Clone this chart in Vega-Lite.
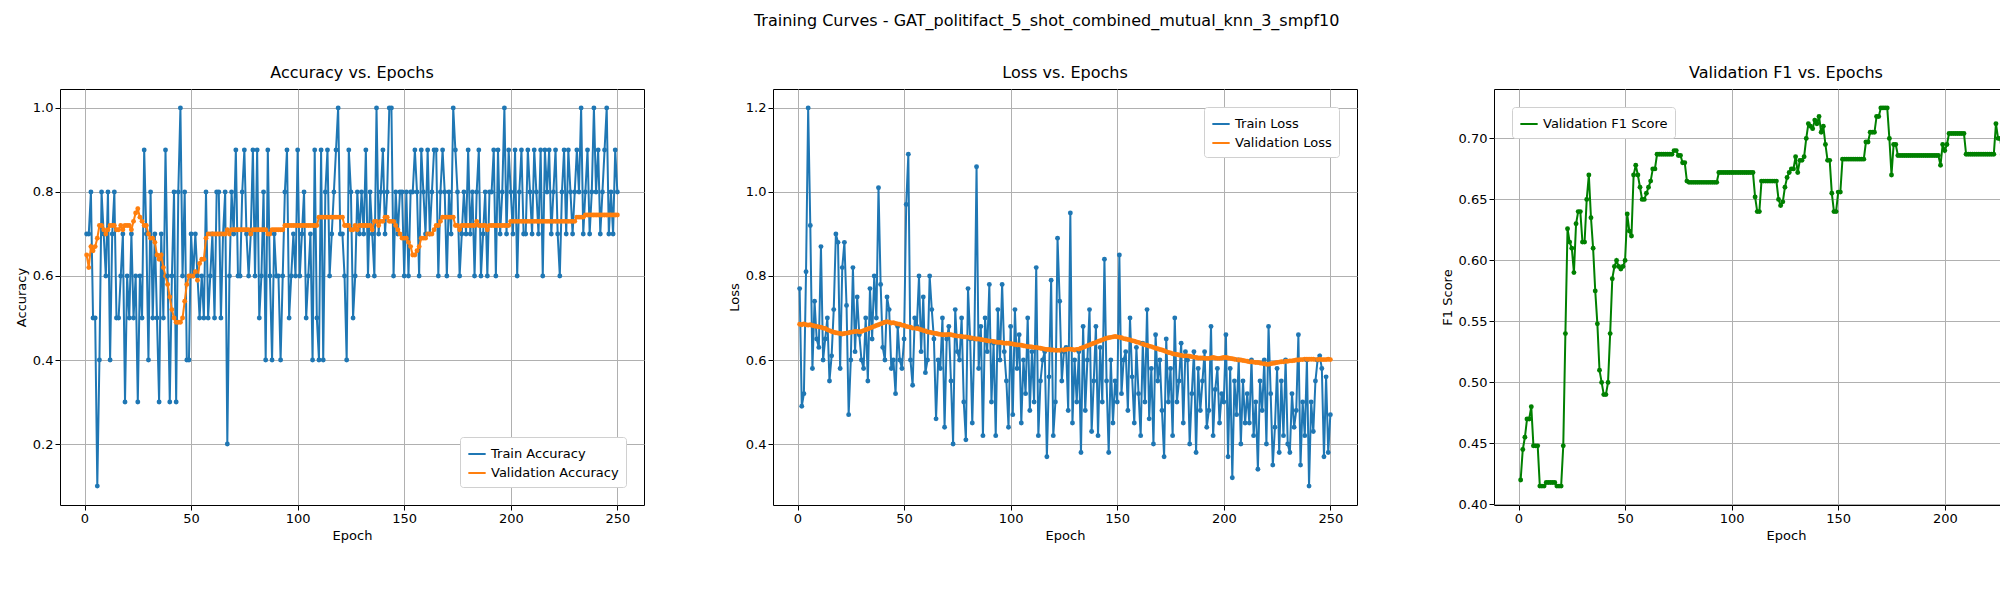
{
  "$schema": "https://vega.github.io/schema/vega-lite/v6.json",
  "title": {"text": "Training Curves - GAT_politifact_5_shot_combined_mutual_knn_3_smpf10", "anchor": "middle", "fontSize": 16, "fontWeight": "normal", "offset": 36},
  "padding": {"left": 14, "top": 12, "right": 5, "bottom": 5},
  "config": {
    "font": "DejaVu Sans",
    "view": {"stroke": "black", "strokeWidth": 1},
    "axis": {"grid": true, "gridColor": "#b0b0b0", "gridWidth": 1, "domain": false, "tickColor": "black", "tickSize": 5, "labelFontSize": 13, "titleFontSize": 13, "titleFontWeight": "normal", "labelColor": "black", "titleColor": "black"},
    "title": {"fontSize": 16, "fontWeight": "normal", "offset": 8},
    "legend": {"labelFontSize": 13, "strokeColor": "#d0d0d0", "fillColor": "white", "padding": 7, "cornerRadius": 3, "title": null, "symbolType": "stroke", "symbolStrokeWidth": 2, "symbolSize": 300}
  },
  "spacing": 82,
  "data": {"values": [
{"e":1,"ta":0.7,"va":0.65,"tl":0.77,"vl":0.685,"f":0.42},
{"e":2,"ta":0.7,"va":0.62,"tl":0.49,"vl":0.684,"f":0.445},
{"e":3,"ta":0.8,"va":0.67,"tl":0.52,"vl":0.686,"f":0.455},
{"e":4,"ta":0.5,"va":0.66,"tl":0.81,"vl":0.684,"f":0.47},
{"e":5,"ta":0.5,"va":0.67,"tl":1.2,"vl":0.683,"f":0.47},
{"e":6,"ta":0.1,"va":0.69,"tl":0.92,"vl":0.684,"f":0.48},
{"e":7,"ta":0.4,"va":0.72,"tl":0.58,"vl":0.682,"f":0.448},
{"e":8,"ta":0.8,"va":0.72,"tl":0.74,"vl":0.681,"f":0.448},
{"e":9,"ta":0.7,"va":0.71,"tl":0.65,"vl":0.68,"f":0.448},
{"e":10,"ta":0.6,"va":0.7,"tl":0.63,"vl":0.679,"f":0.415},
{"e":11,"ta":0.8,"va":0.71,"tl":0.87,"vl":0.678,"f":0.415},
{"e":12,"ta":0.4,"va":0.72,"tl":0.6,"vl":0.676,"f":0.415},
{"e":13,"ta":0.7,"va":0.72,"tl":0.65,"vl":0.675,"f":0.418},
{"e":14,"ta":0.8,"va":0.72,"tl":0.7,"vl":0.672,"f":0.418},
{"e":15,"ta":0.5,"va":0.71,"tl":0.55,"vl":0.67,"f":0.418},
{"e":16,"ta":0.5,"va":0.71,"tl":0.61,"vl":0.668,"f":0.418},
{"e":17,"ta":0.6,"va":0.72,"tl":0.72,"vl":0.666,"f":0.418},
{"e":18,"ta":0.7,"va":0.71,"tl":0.9,"vl":0.665,"f":0.415},
{"e":19,"ta":0.3,"va":0.72,"tl":0.88,"vl":0.664,"f":0.415},
{"e":20,"ta":0.6,"va":0.72,"tl":0.58,"vl":0.663,"f":0.415},
{"e":21,"ta":0.5,"va":0.72,"tl":0.82,"vl":0.662,"f":0.448},
{"e":22,"ta":0.7,"va":0.71,"tl":0.88,"vl":0.663,"f":0.54},
{"e":23,"ta":0.5,"va":0.73,"tl":0.73,"vl":0.664,"f":0.626},
{"e":24,"ta":0.6,"va":0.75,"tl":0.47,"vl":0.665,"f":0.615},
{"e":25,"ta":0.3,"va":0.76,"tl":0.6,"vl":0.666,"f":0.61},
{"e":26,"ta":0.6,"va":0.74,"tl":0.82,"vl":0.667,"f":0.59},
{"e":27,"ta":0.5,"va":0.73,"tl":0.62,"vl":0.668,"f":0.63},
{"e":28,"ta":0.9,"va":0.72,"tl":0.75,"vl":0.668,"f":0.64},
{"e":29,"ta":0.7,"va":0.72,"tl":0.66,"vl":0.667,"f":0.64},
{"e":30,"ta":0.4,"va":0.7,"tl":0.6,"vl":0.668,"f":0.615},
{"e":31,"ta":0.8,"va":0.69,"tl":0.58,"vl":0.67,"f":0.615},
{"e":32,"ta":0.5,"va":0.69,"tl":0.7,"vl":0.672,"f":0.65},
{"e":33,"ta":0.7,"va":0.68,"tl":0.55,"vl":0.674,"f":0.67},
{"e":34,"ta":0.5,"va":0.65,"tl":0.77,"vl":0.676,"f":0.635},
{"e":35,"ta":0.3,"va":0.64,"tl":0.65,"vl":0.678,"f":0.61},
{"e":36,"ta":0.7,"va":0.65,"tl":0.8,"vl":0.68,"f":0.575},
{"e":37,"ta":0.5,"va":0.62,"tl":0.7,"vl":0.682,"f":0.548},
{"e":38,"ta":0.9,"va":0.6,"tl":1.01,"vl":0.684,"f":0.51},
{"e":39,"ta":0.6,"va":0.58,"tl":0.78,"vl":0.686,"f":0.5},
{"e":40,"ta":0.3,"va":0.55,"tl":0.63,"vl":0.688,"f":0.49},
{"e":41,"ta":0.6,"va":0.52,"tl":0.6,"vl":0.69,"f":0.49},
{"e":42,"ta":0.8,"va":0.5,"tl":0.75,"vl":0.691,"f":0.5},
{"e":43,"ta":0.3,"va":0.49,"tl":0.72,"vl":0.69,"f":0.54},
{"e":44,"ta":0.8,"va":0.49,"tl":0.58,"vl":0.688,"f":0.585},
{"e":45,"ta":1.0,"va":0.49,"tl":0.6,"vl":0.689,"f":0.595},
{"e":46,"ta":0.6,"va":0.5,"tl":0.52,"vl":0.687,"f":0.6},
{"e":47,"ta":0.8,"va":0.54,"tl":0.68,"vl":0.686,"f":0.595},
{"e":48,"ta":0.4,"va":0.58,"tl":0.6,"vl":0.685,"f":0.593},
{"e":49,"ta":0.4,"va":0.6,"tl":0.58,"vl":0.683,"f":0.595},
{"e":50,"ta":0.7,"va":0.6,"tl":0.65,"vl":0.682,"f":0.6},
{"e":51,"ta":0.6,"va":0.6,"tl":0.97,"vl":0.68,"f":0.638},
{"e":52,"ta":0.7,"va":0.61,"tl":1.09,"vl":0.679,"f":0.624},
{"e":53,"ta":0.6,"va":0.59,"tl":0.6,"vl":0.678,"f":0.62},
{"e":54,"ta":0.5,"va":0.63,"tl":0.54,"vl":0.676,"f":0.67},
{"e":55,"ta":0.6,"va":0.64,"tl":0.7,"vl":0.676,"f":0.678},
{"e":56,"ta":0.5,"va":0.64,"tl":0.68,"vl":0.675,"f":0.67},
{"e":57,"ta":0.8,"va":0.69,"tl":0.8,"vl":0.674,"f":0.66},
{"e":58,"ta":0.5,"va":0.7,"tl":0.62,"vl":0.672,"f":0.65},
{"e":59,"ta":0.6,"va":0.7,"tl":0.75,"vl":0.67,"f":0.65},
{"e":60,"ta":0.7,"va":0.7,"tl":0.57,"vl":0.669,"f":0.655},
{"e":61,"ta":0.5,"va":0.7,"tl":0.6,"vl":0.667,"f":0.66},
{"e":62,"ta":0.8,"va":0.7,"tl":0.8,"vl":0.666,"f":0.665},
{"e":63,"ta":0.8,"va":0.7,"tl":0.72,"vl":0.665,"f":0.675},
{"e":64,"ta":0.5,"va":0.7,"tl":0.65,"vl":0.664,"f":0.675},
{"e":65,"ta":0.7,"va":0.7,"tl":0.46,"vl":0.663,"f":0.687},
{"e":66,"ta":0.8,"va":0.7,"tl":0.6,"vl":0.662,"f":0.687},
{"e":67,"ta":0.2,"va":0.71,"tl":0.58,"vl":0.661,"f":0.687},
{"e":68,"ta":0.6,"va":0.7,"tl":0.7,"vl":0.66,"f":0.687},
{"e":69,"ta":0.8,"va":0.71,"tl":0.44,"vl":0.66,"f":0.687},
{"e":70,"ta":0.7,"va":0.71,"tl":0.65,"vl":0.66,"f":0.687},
{"e":71,"ta":0.9,"va":0.71,"tl":0.68,"vl":0.661,"f":0.687},
{"e":72,"ta":0.6,"va":0.71,"tl":0.55,"vl":0.66,"f":0.687},
{"e":73,"ta":0.6,"va":0.71,"tl":0.4,"vl":0.659,"f":0.69},
{"e":74,"ta":0.8,"va":0.71,"tl":0.72,"vl":0.658,"f":0.69},
{"e":75,"ta":0.9,"va":0.71,"tl":0.62,"vl":0.657,"f":0.686},
{"e":76,"ta":0.7,"va":0.71,"tl":0.6,"vl":0.657,"f":0.686},
{"e":77,"ta":0.6,"va":0.71,"tl":0.7,"vl":0.656,"f":0.68},
{"e":78,"ta":0.7,"va":0.7,"tl":0.5,"vl":0.655,"f":0.68},
{"e":79,"ta":0.9,"va":0.71,"tl":0.41,"vl":0.655,"f":0.665},
{"e":80,"ta":0.6,"va":0.71,"tl":0.77,"vl":0.654,"f":0.664},
{"e":81,"ta":0.9,"va":0.71,"tl":0.65,"vl":0.653,"f":0.664},
{"e":82,"ta":0.5,"va":0.71,"tl":0.45,"vl":0.652,"f":0.664},
{"e":83,"ta":0.6,"va":0.71,"tl":0.65,"vl":0.651,"f":0.664},
{"e":84,"ta":0.8,"va":0.71,"tl":1.06,"vl":0.65,"f":0.664},
{"e":85,"ta":0.4,"va":0.71,"tl":0.58,"vl":0.65,"f":0.664},
{"e":86,"ta":0.9,"va":0.7,"tl":0.68,"vl":0.649,"f":0.664},
{"e":87,"ta":0.6,"va":0.7,"tl":0.42,"vl":0.648,"f":0.664},
{"e":88,"ta":0.4,"va":0.71,"tl":0.7,"vl":0.647,"f":0.664},
{"e":89,"ta":0.7,"va":0.71,"tl":0.62,"vl":0.646,"f":0.664},
{"e":90,"ta":0.6,"va":0.71,"tl":0.78,"vl":0.645,"f":0.664},
{"e":91,"ta":0.6,"va":0.71,"tl":0.5,"vl":0.645,"f":0.664},
{"e":92,"ta":0.4,"va":0.71,"tl":0.64,"vl":0.644,"f":0.664},
{"e":93,"ta":0.6,"va":0.71,"tl":0.42,"vl":0.643,"f":0.664},
{"e":94,"ta":0.8,"va":0.72,"tl":0.72,"vl":0.642,"f":0.672},
{"e":95,"ta":0.9,"va":0.72,"tl":0.6,"vl":0.642,"f":0.672},
{"e":96,"ta":0.5,"va":0.72,"tl":0.78,"vl":0.641,"f":0.672},
{"e":97,"ta":0.6,"va":0.72,"tl":0.62,"vl":0.64,"f":0.672},
{"e":98,"ta":0.7,"va":0.72,"tl":0.55,"vl":0.64,"f":0.672},
{"e":99,"ta":0.6,"va":0.72,"tl":0.44,"vl":0.64,"f":0.672},
{"e":100,"ta":0.9,"va":0.72,"tl":0.68,"vl":0.639,"f":0.672},
{"e":101,"ta":0.6,"va":0.72,"tl":0.47,"vl":0.638,"f":0.672},
{"e":102,"ta":0.7,"va":0.72,"tl":0.72,"vl":0.637,"f":0.672},
{"e":103,"ta":0.8,"va":0.72,"tl":0.58,"vl":0.636,"f":0.672},
{"e":104,"ta":0.5,"va":0.72,"tl":0.66,"vl":0.636,"f":0.672},
{"e":105,"ta":0.6,"va":0.72,"tl":0.45,"vl":0.635,"f":0.672},
{"e":106,"ta":0.7,"va":0.72,"tl":0.6,"vl":0.634,"f":0.672},
{"e":107,"ta":0.4,"va":0.72,"tl":0.52,"vl":0.633,"f":0.672},
{"e":108,"ta":0.9,"va":0.72,"tl":0.7,"vl":0.632,"f":0.672},
{"e":109,"ta":0.5,"va":0.72,"tl":0.48,"vl":0.632,"f":0.672},
{"e":110,"ta":0.4,"va":0.74,"tl":0.62,"vl":0.631,"f":0.672},
{"e":111,"ta":0.9,"va":0.74,"tl":0.5,"vl":0.63,"f":0.652},
{"e":112,"ta":0.4,"va":0.74,"tl":0.82,"vl":0.63,"f":0.64},
{"e":113,"ta":0.8,"va":0.74,"tl":0.42,"vl":0.629,"f":0.64},
{"e":114,"ta":0.9,"va":0.74,"tl":0.55,"vl":0.628,"f":0.665},
{"e":115,"ta":0.6,"va":0.74,"tl":0.6,"vl":0.627,"f":0.665},
{"e":116,"ta":0.7,"va":0.74,"tl":0.62,"vl":0.626,"f":0.665},
{"e":117,"ta":0.8,"va":0.74,"tl":0.37,"vl":0.625,"f":0.665},
{"e":118,"ta":0.9,"va":0.74,"tl":0.56,"vl":0.625,"f":0.665},
{"e":119,"ta":1.0,"va":0.74,"tl":0.79,"vl":0.624,"f":0.665},
{"e":120,"ta":0.7,"va":0.74,"tl":0.42,"vl":0.624,"f":0.665},
{"e":121,"ta":0.7,"va":0.74,"tl":0.5,"vl":0.623,"f":0.665},
{"e":122,"ta":0.6,"va":0.72,"tl":0.89,"vl":0.623,"f":0.65},
{"e":123,"ta":0.4,"va":0.72,"tl":0.74,"vl":0.623,"f":0.645},
{"e":124,"ta":0.9,"va":0.72,"tl":0.55,"vl":0.624,"f":0.648},
{"e":125,"ta":0.8,"va":0.71,"tl":0.62,"vl":0.624,"f":0.66},
{"e":126,"ta":0.5,"va":0.71,"tl":0.63,"vl":0.625,"f":0.668},
{"e":127,"ta":0.6,"va":0.72,"tl":0.48,"vl":0.626,"f":0.672},
{"e":128,"ta":0.8,"va":0.71,"tl":0.95,"vl":0.626,"f":0.675},
{"e":129,"ta":0.7,"va":0.72,"tl":0.45,"vl":0.625,"f":0.675},
{"e":130,"ta":0.8,"va":0.72,"tl":0.6,"vl":0.624,"f":0.685},
{"e":131,"ta":0.7,"va":0.72,"tl":0.5,"vl":0.625,"f":0.672},
{"e":132,"ta":0.9,"va":0.72,"tl":0.62,"vl":0.626,"f":0.682},
{"e":133,"ta":0.6,"va":0.72,"tl":0.38,"vl":0.628,"f":0.682},
{"e":134,"ta":0.8,"va":0.72,"tl":0.68,"vl":0.63,"f":0.685},
{"e":135,"ta":0.7,"va":0.71,"tl":0.48,"vl":0.632,"f":0.7},
{"e":136,"ta":0.6,"va":0.73,"tl":0.6,"vl":0.634,"f":0.712},
{"e":137,"ta":1.0,"va":0.73,"tl":0.72,"vl":0.636,"f":0.71},
{"e":138,"ta":0.7,"va":0.72,"tl":0.43,"vl":0.638,"f":0.708},
{"e":139,"ta":0.8,"va":0.73,"tl":0.55,"vl":0.64,"f":0.715},
{"e":140,"ta":0.9,"va":0.73,"tl":0.68,"vl":0.642,"f":0.712},
{"e":141,"ta":0.7,"va":0.74,"tl":0.42,"vl":0.644,"f":0.718},
{"e":142,"ta":0.8,"va":0.74,"tl":0.63,"vl":0.646,"f":0.705},
{"e":143,"ta":1.0,"va":0.73,"tl":0.5,"vl":0.648,"f":0.71},
{"e":144,"ta":1.0,"va":0.73,"tl":0.84,"vl":0.65,"f":0.695},
{"e":145,"ta":0.6,"va":0.73,"tl":0.55,"vl":0.652,"f":0.682},
{"e":146,"ta":0.8,"va":0.72,"tl":0.38,"vl":0.653,"f":0.682},
{"e":147,"ta":0.7,"va":0.71,"tl":0.6,"vl":0.654,"f":0.655},
{"e":148,"ta":0.8,"va":0.7,"tl":0.45,"vl":0.655,"f":0.64},
{"e":149,"ta":0.8,"va":0.69,"tl":0.55,"vl":0.656,"f":0.64},
{"e":150,"ta":0.6,"va":0.69,"tl":0.5,"vl":0.655,"f":0.656},
{"e":151,"ta":0.8,"va":0.69,"tl":0.85,"vl":0.654,"f":0.656},
{"e":152,"ta":0.6,"va":0.68,"tl":0.52,"vl":0.653,"f":0.683},
{"e":153,"ta":0.8,"va":0.67,"tl":0.6,"vl":0.651,"f":0.683},
{"e":154,"ta":0.8,"va":0.65,"tl":0.62,"vl":0.65,"f":0.683},
{"e":155,"ta":0.9,"va":0.65,"tl":0.48,"vl":0.649,"f":0.683},
{"e":156,"ta":0.8,"va":0.66,"tl":0.7,"vl":0.648,"f":0.683},
{"e":157,"ta":0.6,"va":0.67,"tl":0.56,"vl":0.646,"f":0.683},
{"e":158,"ta":0.9,"va":0.69,"tl":0.45,"vl":0.645,"f":0.683},
{"e":159,"ta":0.8,"va":0.69,"tl":0.63,"vl":0.643,"f":0.683},
{"e":160,"ta":0.7,"va":0.69,"tl":0.52,"vl":0.642,"f":0.683},
{"e":161,"ta":0.9,"va":0.7,"tl":0.42,"vl":0.64,"f":0.683},
{"e":162,"ta":0.7,"va":0.7,"tl":0.64,"vl":0.638,"f":0.683},
{"e":163,"ta":0.8,"va":0.7,"tl":0.5,"vl":0.636,"f":0.697},
{"e":164,"ta":0.9,"va":0.71,"tl":0.72,"vl":0.635,"f":0.697},
{"e":165,"ta":0.9,"va":0.72,"tl":0.46,"vl":0.633,"f":0.705},
{"e":166,"ta":0.6,"va":0.72,"tl":0.58,"vl":0.632,"f":0.705},
{"e":167,"ta":0.8,"va":0.73,"tl":0.4,"vl":0.63,"f":0.705},
{"e":168,"ta":0.9,"va":0.74,"tl":0.66,"vl":0.628,"f":0.718},
{"e":169,"ta":0.8,"va":0.74,"tl":0.55,"vl":0.627,"f":0.718},
{"e":170,"ta":0.6,"va":0.74,"tl":0.6,"vl":0.625,"f":0.725},
{"e":171,"ta":0.8,"va":0.74,"tl":0.48,"vl":0.624,"f":0.725},
{"e":172,"ta":0.7,"va":0.74,"tl":0.37,"vl":0.622,"f":0.725},
{"e":173,"ta":1.0,"va":0.74,"tl":0.65,"vl":0.62,"f":0.725},
{"e":174,"ta":0.9,"va":0.72,"tl":0.5,"vl":0.618,"f":0.7},
{"e":175,"ta":0.8,"va":0.72,"tl":0.58,"vl":0.617,"f":0.67},
{"e":176,"ta":0.6,"va":0.71,"tl":0.42,"vl":0.615,"f":0.695},
{"e":177,"ta":0.7,"va":0.72,"tl":0.7,"vl":0.614,"f":0.695},
{"e":178,"ta":0.8,"va":0.72,"tl":0.5,"vl":0.613,"f":0.686},
{"e":179,"ta":0.7,"va":0.72,"tl":0.55,"vl":0.612,"f":0.686},
{"e":180,"ta":0.9,"va":0.72,"tl":0.64,"vl":0.611,"f":0.686},
{"e":181,"ta":0.7,"va":0.72,"tl":0.45,"vl":0.61,"f":0.686},
{"e":182,"ta":0.8,"va":0.72,"tl":0.62,"vl":0.61,"f":0.686},
{"e":183,"ta":0.6,"va":0.72,"tl":0.6,"vl":0.61,"f":0.686},
{"e":184,"ta":0.8,"va":0.73,"tl":0.4,"vl":0.609,"f":0.686},
{"e":185,"ta":0.9,"va":0.72,"tl":0.52,"vl":0.608,"f":0.686},
{"e":186,"ta":0.6,"va":0.72,"tl":0.62,"vl":0.607,"f":0.686},
{"e":187,"ta":0.7,"va":0.72,"tl":0.38,"vl":0.606,"f":0.686},
{"e":188,"ta":0.8,"va":0.72,"tl":0.58,"vl":0.605,"f":0.686},
{"e":189,"ta":0.6,"va":0.71,"tl":0.48,"vl":0.605,"f":0.686},
{"e":190,"ta":0.8,"va":0.72,"tl":0.55,"vl":0.605,"f":0.686},
{"e":191,"ta":0.8,"va":0.72,"tl":0.62,"vl":0.604,"f":0.686},
{"e":192,"ta":0.9,"va":0.72,"tl":0.44,"vl":0.604,"f":0.686},
{"e":193,"ta":0.6,"va":0.72,"tl":0.48,"vl":0.604,"f":0.686},
{"e":194,"ta":0.9,"va":0.72,"tl":0.68,"vl":0.605,"f":0.686},
{"e":195,"ta":0.7,"va":0.72,"tl":0.42,"vl":0.606,"f":0.686},
{"e":196,"ta":0.8,"va":0.72,"tl":0.53,"vl":0.605,"f":0.686},
{"e":197,"ta":1.0,"va":0.72,"tl":0.58,"vl":0.604,"f":0.686},
{"e":198,"ta":0.7,"va":0.72,"tl":0.45,"vl":0.604,"f":0.678},
{"e":199,"ta":0.9,"va":0.72,"tl":0.52,"vl":0.605,"f":0.695},
{"e":200,"ta":0.8,"va":0.73,"tl":0.5,"vl":0.606,"f":0.69},
{"e":201,"ta":0.7,"va":0.73,"tl":0.66,"vl":0.606,"f":0.695},
{"e":202,"ta":0.9,"va":0.73,"tl":0.37,"vl":0.605,"f":0.704},
{"e":203,"ta":0.6,"va":0.73,"tl":0.58,"vl":0.604,"f":0.704},
{"e":204,"ta":0.8,"va":0.73,"tl":0.32,"vl":0.603,"f":0.704},
{"e":205,"ta":0.9,"va":0.73,"tl":0.55,"vl":0.602,"f":0.704},
{"e":206,"ta":0.7,"va":0.73,"tl":0.47,"vl":0.601,"f":0.704},
{"e":207,"ta":0.7,"va":0.73,"tl":0.6,"vl":0.6,"f":0.704},
{"e":208,"ta":0.9,"va":0.73,"tl":0.4,"vl":0.6,"f":0.704},
{"e":209,"ta":0.8,"va":0.73,"tl":0.55,"vl":0.599,"f":0.704},
{"e":210,"ta":0.7,"va":0.73,"tl":0.45,"vl":0.598,"f":0.687},
{"e":211,"ta":0.9,"va":0.73,"tl":0.52,"vl":0.597,"f":0.687},
{"e":212,"ta":0.8,"va":0.73,"tl":0.45,"vl":0.596,"f":0.687},
{"e":213,"ta":0.7,"va":0.73,"tl":0.6,"vl":0.596,"f":0.687},
{"e":214,"ta":0.9,"va":0.73,"tl":0.42,"vl":0.595,"f":0.687},
{"e":215,"ta":0.6,"va":0.73,"tl":0.5,"vl":0.594,"f":0.687},
{"e":216,"ta":0.9,"va":0.73,"tl":0.34,"vl":0.594,"f":0.687},
{"e":217,"ta":0.8,"va":0.73,"tl":0.55,"vl":0.593,"f":0.687},
{"e":218,"ta":0.9,"va":0.73,"tl":0.48,"vl":0.592,"f":0.687},
{"e":219,"ta":0.7,"va":0.73,"tl":0.6,"vl":0.591,"f":0.687},
{"e":220,"ta":0.8,"va":0.73,"tl":0.4,"vl":0.59,"f":0.687},
{"e":221,"ta":0.9,"va":0.73,"tl":0.68,"vl":0.59,"f":0.687},
{"e":222,"ta":0.7,"va":0.73,"tl":0.52,"vl":0.591,"f":0.687},
{"e":223,"ta":0.6,"va":0.73,"tl":0.35,"vl":0.592,"f":0.687},
{"e":224,"ta":0.8,"va":0.73,"tl":0.44,"vl":0.593,"f":0.712},
{"e":225,"ta":0.9,"va":0.73,"tl":0.58,"vl":0.594,"f":0.7},
{"e":226,"ta":0.7,"va":0.73,"tl":0.38,"vl":0.595,"f":0.7},
{"e":227,"ta":0.9,"va":0.73,"tl":0.55,"vl":0.596,"f":0.687},
{"e":228,"ta":0.8,"va":0.73,"tl":0.42,"vl":0.596,"f":0.698},
{"e":229,"ta":0.7,"va":0.73,"tl":0.6,"vl":0.597,"f":0.698},
{"e":230,"ta":0.8,"va":0.73,"tl":0.4,"vl":0.597,"f":0.698},
{"e":231,"ta":0.9,"va":0.74,"tl":0.38,"vl":0.598,"f":0.698},
{"e":232,"ta":0.8,"va":0.74,"tl":0.52,"vl":0.598,"f":0.698},
{"e":233,"ta":1.0,"va":0.74,"tl":0.44,"vl":0.599,"f":0.698},
{"e":234,"ta":0.7,"va":0.74,"tl":0.48,"vl":0.6,"f":0.698},
{"e":235,"ta":0.8,"va":0.745,"tl":0.66,"vl":0.6,"f":0.698},
{"e":236,"ta":0.9,"va":0.745,"tl":0.35,"vl":0.601,"f":0.698},
{"e":237,"ta":0.7,"va":0.745,"tl":0.5,"vl":0.601,"f":0.712},
{"e":238,"ta":0.8,"va":0.745,"tl":0.42,"vl":0.602,"f":0.725},
{"e":239,"ta":1.0,"va":0.745,"tl":0.6,"vl":0.602,"f":0.725},
{"e":240,"ta":0.8,"va":0.745,"tl":0.3,"vl":0.602,"f":0.725},
{"e":241,"ta":0.9,"va":0.745,"tl":0.5,"vl":0.602,"f":0.725},
{"e":242,"ta":0.7,"va":0.745,"tl":0.43,"vl":0.602,"f":0.725},
{"e":243,"ta":0.8,"va":0.745,"tl":0.55,"vl":0.601,"f":0.725},
{"e":244,"ta":0.9,"va":0.745,"tl":0.6,"vl":0.601,"f":0.725},
{"e":245,"ta":1.0,"va":0.745,"tl":0.61,"vl":0.602,"f":0.725},
{"e":246,"ta":0.7,"va":0.745,"tl":0.58,"vl":0.601,"f":0.725},
{"e":247,"ta":0.8,"va":0.745,"tl":0.37,"vl":0.601,"f":0.725},
{"e":248,"ta":0.7,"va":0.745,"tl":0.56,"vl":0.601,"f":0.725},
{"e":249,"ta":0.9,"va":0.745,"tl":0.38,"vl":0.602,"f":0.725},
{"e":250,"ta":0.8,"va":0.745,"tl":0.47,"vl":0.601,"f":0.725}
  ]},
  "hconcat": [
    {
      "title": "Accuracy vs. Epochs",
      "width": 584, "height": 416,
      "transform": [
        {"fold": ["ta", "va"], "as": ["k", "v"]},
        {"calculate": "datum.k == 'ta' ? 'Train Accuracy' : 'Validation Accuracy'", "as": "series"}
      ],
      "mark": {"type": "line", "strokeWidth": 2, "point": {"size": 24, "filled": true}},
      "encoding": {
        "x": {"field": "e", "type": "quantitative", "title": "Epoch", "scale": {"domain": [-11.5, 262.5], "nice": false}, "axis": {"values": [0, 50, 100, 150, 200, 250]}},
        "y": {"field": "v", "type": "quantitative", "title": "Accuracy", "scale": {"domain": [0.055, 1.045], "nice": false}, "axis": {"values": [0.2, 0.4, 0.6, 0.8, 1.0], "format": ".1f"}},
        "color": {"field": "series", "type": "nominal", "scale": {"domain": ["Train Accuracy", "Validation Accuracy"], "range": ["#1f77b4", "#ff7f0e"]}, "legend": {"orient": "bottom-right"}}
      }
    },
    {
      "title": "Loss vs. Epochs",
      "width": 584, "height": 416,
      "transform": [
        {"fold": ["tl", "vl"], "as": ["k", "v"]},
        {"calculate": "datum.k == 'tl' ? 'Train Loss' : 'Validation Loss'", "as": "series"}
      ],
      "mark": {"type": "line", "strokeWidth": 2, "point": {"size": 24, "filled": true}},
      "encoding": {
        "x": {"field": "e", "type": "quantitative", "title": "Epoch", "scale": {"domain": [-11.5, 262.5], "nice": false}, "axis": {"values": [0, 50, 100, 150, 200, 250]}},
        "y": {"field": "v", "type": "quantitative", "title": "Loss", "scale": {"domain": [0.255, 1.245], "nice": false}, "axis": {"values": [0.4, 0.6, 0.8, 1.0, 1.2], "format": ".1f"}},
        "color": {"field": "series", "type": "nominal", "scale": {"domain": ["Train Loss", "Validation Loss"], "range": ["#1f77b4", "#ff7f0e"]}, "legend": {"orient": "top-right"}}
      }
    },
    {
      "title": "Validation F1 vs. Epochs",
      "width": 584, "height": 416,
      "transform": [
        {"calculate": "'Validation F1 Score'", "as": "series"}
      ],
      "mark": {"type": "line", "strokeWidth": 2, "point": {"size": 24, "filled": true}},
      "encoding": {
        "x": {"field": "e", "type": "quantitative", "title": "Epoch", "scale": {"domain": [-11.5, 262.5], "nice": false}, "axis": {"values": [0, 50, 100, 150, 200, 250]}},
        "y": {"field": "f", "type": "quantitative", "title": "F1 Score", "scale": {"domain": [0.3995, 0.7405], "nice": false}, "axis": {"values": [0.40, 0.45, 0.50, 0.55, 0.60, 0.65, 0.70], "format": ".2f"}},
        "color": {"field": "series", "type": "nominal", "scale": {"range": ["#008000"]}, "legend": {"orient": "top-left"}}
      }
    }
  ],
  "resolve": {"scale": {"color": "independent"}}
}
